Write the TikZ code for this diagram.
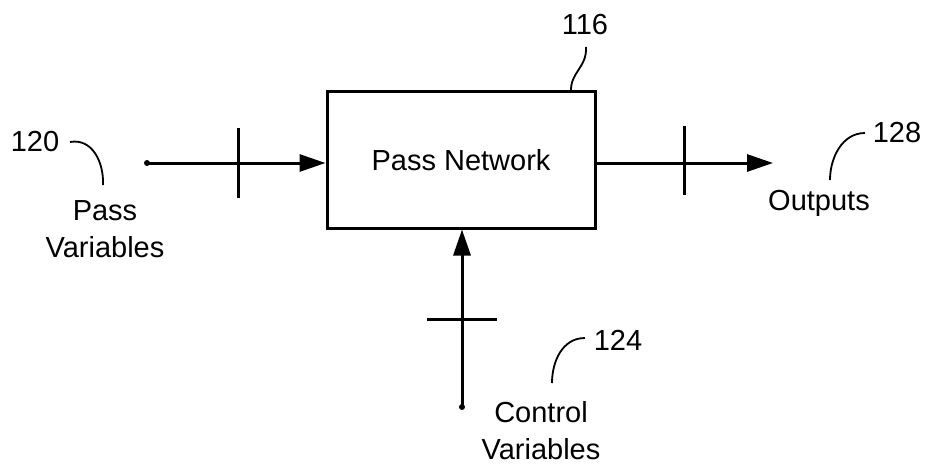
\documentclass[tikz,border=0pt]{standalone}
\usepackage{fontspec}
\setmainfont{Liberation Sans}
\usetikzlibrary{arrows.meta, positioning}

\begin{document}
\begin{tikzpicture}[x=1pt, y=-1pt, line width=3pt,
    >={Triangle[length=26pt, width=17pt]},
    font=\fontsize{29}{37}\selectfont]

    % styles
    \tikzset{
        netbox/.style={draw, minimum width=268pt, minimum height=136pt, inner sep=0pt},
        lbl/.style={align=center, inner sep=0pt},
        leader/.style={line width=1.8pt},
        tick/.style={line width=3pt}
    }

    \useasboundingbox (0,0) rectangle (925,468);

    % ==========================================
    % Block and its terminals
    % ==========================================
    \node[netbox] (net) at (461,160) {Pass Network};

    \coordinate (passin) at (147,163);
    \coordinate (outend) at (773,163);
    \coordinate (ctrlin) at (462,407);

    \fill (passin) circle (3pt);
    \fill (ctrlin) circle (3pt);

    % Signal lines
    \draw[->] (passin) -- (net.west |- passin);
    \draw[->] (net.east |- outend) -- (outend);
    \draw[->] (ctrlin) -- (net.south -| ctrlin);

    % Bus ticks
    \draw[tick] (238,128) -- (238,198);
    \draw[tick] (684,126) -- (684,195);
    \draw[tick] (427,319) -- (497,319);

    % ==========================================
    % Labels and reference numerals
    % ==========================================
    \node[lbl] (passlbl) at (105,229) {Pass\\Variables};
    \node[lbl] (outlbl) at (819,203) {Outputs};
    \node[lbl] (ctrllbl) at (541,431) {Control\\Variables};

    \node[lbl] (n116) at (585,25) {116};
    \node[lbl] (n120) at (35,142) {120};
    \node[lbl] (n128) at (897,133) {128};
    \node[lbl] (n124) at (618,340) {124};

    % Leader lines
    \draw[leader] (586,47) .. controls (587,68) and (570,72) .. (571,92);
    \draw[leader] (70,142) .. controls (92,138) and (104,162) .. (103,185);
    \draw[leader] (865,133) .. controls (842,133) and (830,158) .. (830,180);
    \draw[leader] (585,338) .. controls (562,338) and (552,362) .. (552,383);

\end{tikzpicture}
\end{document}
